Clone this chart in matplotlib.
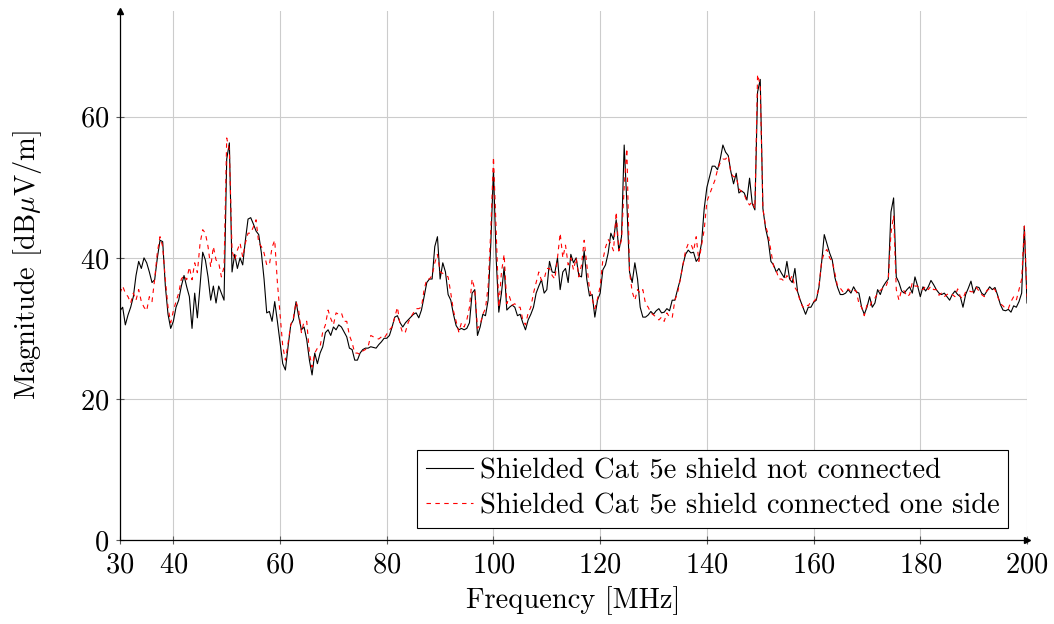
import numpy as np
import matplotlib
matplotlib.use("Agg")
import matplotlib.pyplot as plt

# Frequency sampling grid [MHz] (0.5 MHz steps, 30 .. 200)
freq = np.arange(30.0, 200.01, 0.5)

# Shielded Cat 5e, shield not connected  [dBuV/m]
not_connected = [
    # 30.0 - 57.5
    32.5, 33, 30.5, 31.9, 33, 34.5, 37.5, 39.5, 38.5, 40, 39.3, 38, 36.5, 36.9, 40, 42.5,
    42.3, 36, 32, 30, 31, 33, 34, 36, 37.5, 35.9, 34.5, 30, 35, 31.5, 36, 40.8, 39.7, 37.3,
    34, 36, 33.6, 36, 35, 34, 54, 56.3, 38, 40.5, 38.5, 40, 39, 42.5, 45.5, 45.7, 44.8, 43.8,
    43.3, 40.7, 37, 32.2,
    # 58.0 - 85.5
    32.4, 31, 33.8, 31, 28, 25, 24.1, 27.4, 30.5, 31.2, 33.8, 31.6, 29.8, 30.2, 28.4, 25.5,
    23.4, 26.5, 25, 26.5, 27.4, 29.4, 29.8, 29, 30.2, 29.8, 30.5, 30.2, 29.5, 28.8, 27.2, 27,
    25.5, 25.5, 26.5, 27, 27.2, 27.2, 27.4, 27.3, 27.2, 27.7, 28.1, 28.6, 28.6, 29, 30.2, 31.6,
    31.8, 30.8, 30.2, 30.8, 31.2, 31.6, 32, 32.2,
    # 86.0 - 113.5
    31.5, 32.6, 34.5, 36.5, 37, 37, 41.6, 43, 37, 39.3, 38, 34.8, 34, 32, 30.4, 29.8, 30, 29.8,
    30, 30.8, 35, 35.5, 29, 30.2, 32, 31.8, 34, 42, 52.5, 40, 32.3, 35, 38.7, 32.6, 33, 33.3,
    33, 31.8, 32, 30.8, 29.8, 31.2, 32, 33, 35, 36, 36.9, 35, 35.5, 39.5, 38, 37.9, 40, 35.5,
    38, 38.5,
    # 114.0 - 141.5
    36.5, 40.5, 39.3, 40, 37.5, 37.3, 41, 36.9, 34.6, 34.8, 31.6, 34, 35, 38.3, 39, 40.7, 43.5,
    42.6, 45.4, 41, 43, 56, 47.8, 38, 36.5, 39.3, 37, 33, 31.6, 31.6, 31.9, 32.4, 32, 32.5,
    32.8, 32.2, 32.3, 32.8, 32.5, 34, 34, 35.5, 36.9, 39, 40.5, 41.1, 40.7, 40.8, 39.5, 40,
    42.1, 47, 50, 51.5, 53, 53,
    # 142.0 - 169.5
    52.5, 54, 56, 55, 54.5, 52.2, 50.5, 52, 49.2, 49.5, 49.2, 48.2, 51.3, 47.7, 46.8, 63.5,
    65.3, 47, 44.2, 42.5, 39.5, 39, 38, 38.5, 37.8, 37.2, 39.5, 37, 36.5, 38.5, 35.2, 34, 33,
    32, 33, 33, 33.7, 34, 35.8, 39.3, 43.3, 42, 40.7, 39.7, 37.2, 35.8, 34.8, 34.8, 35, 35.5,
    35, 35.9, 35.2, 35, 33, 32,
    # 170.0 - 200.0
    33, 34.5, 33, 33.6, 35.5, 34.8, 35.9, 36.5, 37, 46.5, 48.5, 37.3, 36.5, 35.3, 35, 35.5,
    35.9, 35, 37.3, 36, 34.5, 35.9, 35.3, 35.9, 36.8, 36.2, 35.5, 35, 34.8, 35, 34.5, 34, 34.8,
    35.3, 34.8, 34.5, 33, 34.8, 35.7, 36.7, 35, 35.9, 35.8, 35, 34.7, 35.3, 35.9, 35.5, 35.8,
    34.7, 33.4, 32.6, 32.5, 32.7, 32.3, 33.2, 33, 33.8, 35, 44.5, 33.6,
]

# Shielded Cat 5e, shield connected one side  [dBuV/m]
one_side = [
    # 30.0 - 57.5
    35, 36, 35, 34.5, 33.6, 35, 34, 35.5, 33.8, 33, 32.5, 34.5, 33.8, 37, 40.8, 43, 41.6, 36.9,
    33, 30.8, 32.5, 33.8, 35, 37, 37.5, 36.9, 38.7, 36.9, 39.3, 37.9, 42, 44, 43.5, 41.6, 38.7,
    41.6, 39.7, 39.3, 37.3, 38.7, 57, 55.3, 41, 39.7, 41.1, 42.1, 40.1, 42.1, 43.5, 43.5, 44.4,
    45.4, 42.1, 41.6, 40.7, 39,
    # 58.0 - 85.5
    39, 41.5, 42.5, 36.5, 32, 27.5, 25.5, 27.9, 30.5, 31.5, 33.8, 32.5, 29.4, 31, 31, 26.5,
    24.5, 26.5, 27.2, 27.4, 29.5, 30.5, 32.6, 31.4, 30.5, 32.2, 32, 32.2, 31, 31, 29, 28, 26.5,
    26.5, 26.3, 26.8, 27, 27.4, 29, 28.8, 28.6, 28.5, 28.8, 28.6, 29.2, 29.8, 30.2, 31.6, 33,
    30.5, 29.3, 29.5, 30.8, 31.6, 32.2, 32.8,
    # 86.0 - 113.5
    32.8, 33, 35.5, 37, 37, 37.5, 39.3, 40.5, 38, 37.8, 37.5, 37.3, 35, 32.5, 31, 29.5, 30.8,
    30.2, 31.2, 33, 37, 35.5, 30, 30.5, 32, 32.8, 36, 44, 54.3, 44, 33, 38, 40.5, 33.5, 34.5,
    33.3, 33.5, 33, 33, 31.2, 30.5, 32.2, 33, 35, 36.5, 38, 36.8, 37, 38.5, 38.5, 37.5, 37, 40,
    43.5, 40, 41.8,
    # 114.0 - 141.5
    39, 40, 38.3, 40, 37.3, 39, 42.5, 39, 35.5, 34.2, 32.8, 34.2, 36, 39.7, 41.5, 42.6, 42, 41,
    46.5, 41, 42.6, 50, 55.5, 38, 35.2, 34, 35.5, 35, 35.5, 33.5, 33, 32.2, 31.9, 31.6, 31.2,
    31.6, 31, 32.2, 31.6, 31.5, 34, 35, 36.9, 39, 41, 42, 42, 41, 43, 39.5, 41.8, 44, 48, 49,
    50, 51,
    # 142.0 - 169.5
    52.5, 53.5, 54, 54, 54.5, 52, 51.5, 51.5, 49.8, 49.4, 49, 48, 47.5, 48, 47, 66, 64.5, 47,
    44.5, 43.3, 41, 38.8, 38.2, 37, 37, 36.7, 37.5, 36.8, 37.5, 35.8, 35.2, 33.8, 33, 33.4,
    33.2, 33.8, 33.8, 34.2, 35.9, 39.5, 40.7, 41.2, 40, 39.5, 37.8, 35.9, 35.7, 35.2, 35.3,
    35.6, 35.2, 35.4, 35.3, 33.5, 33, 31.8,
    # 170.0 - 200.0
    33.3, 33, 34, 34.3, 35, 35.4, 35.7, 35.8, 36.9, 43.5, 46, 35.5, 34, 35.5, 35.3, 34.5, 34.8,
    36.5, 36, 36, 35.6, 35.5, 36, 35.5, 36, 35.5, 35.5, 34.7, 35, 34.5, 34.8, 35, 34.8, 34.5,
    35.6, 34.5, 34.2, 35.2, 35.4, 35.2, 35.2, 35.8, 35.3, 34.8, 34.5, 35.4, 35.6, 35.7, 35.5,
    34.5, 33.5, 33.2, 32.8, 32.8, 33.8, 34.5, 34, 35.5, 37, 44.5, 34.5,
]

labels = ["Shielded Cat 5e shield not connected",
          "Shielded Cat 5e shield connected one side"]
xticks = [30, 40, 60, 80, 100, 120, 140, 160, 180, 200]
yticks = [0, 20, 40, 60]

plt.rcParams["font.family"] = ["cmr10", "DejaVu Serif"]
plt.rcParams["mathtext.fontset"] = "cm"
plt.rcParams["axes.formatter.use_mathtext"] = True

FS = 20.5

fig = plt.figure(figsize=(10.54, 6.24), dpi=100)
ax = fig.add_axes([120 / 1054, 1 - 540 / 624, (1027 - 120) / 1054, (540 - 11) / 624])

ax.plot(freq, not_connected, color="black", lw=0.8, label=labels[0], zorder=3)
ax.plot(freq, one_side, color="red", lw=0.8, linestyle=(0, (4, 4)), label=labels[1], zorder=4)

ax.set_xlim(30, 200)
ax.set_ylim(0, 75)
ax.set_xticks(xticks)
ax.set_yticks(yticks)
ax.grid(True, color="0.8", lw=0.8)
ax.set_axisbelow(True)

for s in ["top", "right"]:
    ax.spines[s].set_visible(False)
for s in ["left", "bottom"]:
    ax.spines[s].set_linewidth(0.9)
    ax.spines[s].set_zorder(5)

ax.tick_params(direction="inout", length=6, width=0.8, color="0.35", labelsize=FS)
ax.tick_params(axis="x", pad=6)
ax.tick_params(axis="y", pad=5)

# axis arrows
ax.plot([1], [0], marker=">", ms=5, color="black", transform=ax.transAxes, clip_on=False, zorder=6)
ax.plot([0], [1], marker="^", ms=5, color="black", transform=ax.transAxes, clip_on=False, zorder=6)

ax.set_xlabel("Frequency [MHz]", fontsize=FS, labelpad=5)
ax.set_ylabel(r"Magnitude [dB$\mu$V/m]", fontsize=FS)
ax.yaxis.set_label_coords(-0.084, 0.52)

leg = ax.legend(loc="lower right", bbox_to_anchor=(0.979, 0.023), fontsize=FS, frameon=True,
                fancybox=False, edgecolor="black", framealpha=1, handlelength=1.65,
                handletextpad=0.25, borderpad=0.3, labelspacing=0.3, borderaxespad=0)
leg.get_frame().set_linewidth(0.8)

fig.savefig("out.png", dpi=100)
